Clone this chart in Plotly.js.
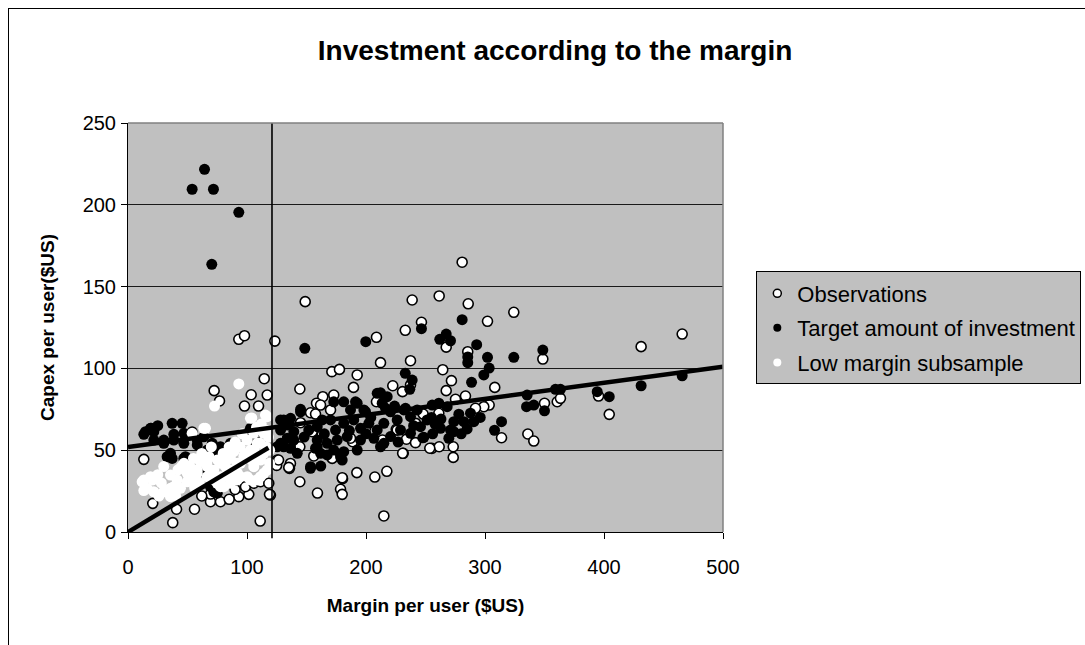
<!DOCTYPE html>
<html>
<head>
<meta charset="utf-8">
<script src="https://cdn.plot.ly/plotly-3.0.1.min.js"></script>
<style>
html,body{margin:0;padding:0;background:#fff;overflow:hidden;width:1085px;height:645px;}
#frame{position:absolute;left:8px;top:8px;width:1090px;height:650px;border:1px solid #000;background:#fff;}
#chart{width:1090px;height:650px;}
</style>
</head>
<body>
<div id="frame"><div id="chart"></div></div>
<script>
// ---- data ----
var chartTitle = "Investment according to the margin";
var xTitle = "Margin per user ($US)";
var yTitle = "Capex per user($US)";
var seriesNames = ["Observations", "Target amount of investment", "Low margin subsample"];
var xTicks = [0, 100, 200, 300, 400, 500];
var yTicks = [0, 50, 100, 150, 200, 250];

var obsMargin = [148.9,238.8,261.5,280.8,285.9,324.2,302.1,246.6,233,208.8,123.4,285.5,212.2,237.4,171.3,177.7,192.6,189.5,222.5,237.4,230.7,264.5,271.8,267.4,267.4,144.4,163.7,172.9,158.4,161.8,283.6,275.2,303.5,299,292,308.2,248,241.8,313.9,234,241.6,255.3,261.5,273.3,273.3,231.3,217.5,207.4,192.3,180.3,178.6,180,159.2,144.4,215,125.4,124.9,135.7,136.5,119.7,208.8,261.2,336,341,350,360.7,395.4,431.2,465.7,348.6,363.4,404.4,144.4,156.1,171.6,188.8,213.8,230.8,225.4,253.6,180,153.4,157.6,145,170.2,199.6,187,154.8,163.2,226.2,126.5,135.1,
  93.1,97.9,114.5,72.4,76.9,103.5,117,97.9,109.7,13.3,21.2,20.8,37.6,40.8,55.9,69.3,77.7,93.1,101.5,118.9,111.1,98.7,105.7,111.3,69.3,118.3,62,85,90];
var obsCapex = [140.8,141.8,144.3,164.9,139.5,134.3,128.8,128.2,123.3,119,116.7,110.2,103.5,104.7,98,99.4,96,88.4,89.4,89.9,85.8,99.2,92.5,86.4,113,87.4,82.7,83.7,78.7,77.6,83.1,81.1,77.6,76.6,75.6,88.4,72.1,66.4,57.6,56.7,54.6,51.1,52.1,52.1,45.6,48.1,37.1,33.6,36.3,32.6,26.1,23,23.8,30.7,9.8,44,40.7,38.9,41.9,22.6,79.6,72.6,59.9,55.6,78.7,79.6,83.1,113.3,121,105.7,81.7,71.9,52.1,46.5,45,55.2,56.2,48.1,62.8,51.2,33.2,72.9,72.1,66.8,74.6,63.4,57.3,61.3,59.3,62.3,44,39.5,
  117.8,120,93.7,86.4,80.1,83.9,83.7,77,77,44.4,32.8,17.5,5.7,13.9,13.9,18.5,18.5,21.6,23,23,6.7,27.7,29.8,30.7,23.2,29.8,22,20,26];

var targetMargin = [64.3,53.9,71.8,93.1,70.4,148.6,199.8,246.6,280.8,262,267.4,271,293,285.5,285.5,302.1,303.5,299,288.7,324.2,348.6,233,238.8,236.8,212.2,153.4,162,313.9,308,247.7,145,181.3,172.9,191.2,198.2,233.2,216.4,255.6,261.2,268.2,287.8,290.6,282.2,273.8,271,262.6,273.8,269.6,248.6,335.4,334.9,341,350,359.2,363.4,394.3,404.4,431.2,465.7,
  130.9,136.6,145,128.2,133.8,128.2,139.3,136.6,142.2,130.9,151.9,159,163.2,170.2,174.4,181.3,189.7,187,192.6,199.6,202.4,195.4,209.4,215,220.6,226.2,231.8,237.4,243,213.6,217.8,209.4,159,167.4,175.8,184.2,172.9,181.3,167.4,159,195.4,206.6,215,220.6,229,237.4,245.8,251.4,153.4,178.6,180,161.8,157.6,212.2,192.6,128.2,133.8,139.3,125.4,255,258,278,285,296,224,204,186,165,148,200,227,240,256,263,280,
  13.3,19.5,21.7,14.7,37.1,45.5,30.1,38.5,46.9,53.9,58.2,63.7,70.8,77.7,86.1,94.5,105.7,100.2,35.7,37.1,48.3,69.3,72.1,60.9,30.1,38.5,46.9,32.9,46.9,58.2,66.6,75,72.1,69.3,75,102.9,18.9,21.7,110,115,25];
var targetCapex = [221.7,209.5,209.5,195.4,163.6,112.3,116.3,124.3,129.8,117.8,121,116.9,114.5,107,103.5,106.8,100.2,96,91.5,106.8,111.2,97,92.9,87.2,85.1,38.9,40.3,67.4,62.2,57.6,75,79.6,79.6,79.6,74.6,75.6,75.6,77.6,78.7,76.6,72.6,67.4,67.4,67.4,62.3,63.4,61.3,57.3,57.9,83.7,76.6,77.6,74.1,87.2,87.2,85.8,82.7,89.4,95.5,
  68.5,69.5,73.5,62.3,57.3,54.2,56.2,51.2,48.1,52.1,62.3,64.4,68.5,68.5,62.3,66.4,68.5,74.6,78.7,73.5,66.4,63.4,62.3,66.4,73.5,68.5,74.6,70.5,74.6,78.7,82.7,84.8,56.2,54.2,56.2,58.3,50.1,49.1,47.1,52.1,56.2,57.3,54.2,58.3,62.3,60.3,64.4,68.5,39.9,46,44,48.1,51.2,52.1,50.1,68.5,65.4,61.3,52.1,70,66,72,63,70,77,70,62,60,58,60,55,65,60,69,60,
  59.7,63.4,61.3,61.3,66.4,66.4,56.2,59.7,60.3,61.3,56.2,58.2,54.2,52.1,54.2,52.1,56.2,60.3,48.1,45,46,47.1,24.6,36.9,54.2,56.2,54.2,46,45,53.2,50.1,48.1,42,27.7,23.7,63.4,63.4,56.2,62,58,65];

var lowMargin = [93.1,72.7,104,117,13.3,21.7,20.8,35.7,41.3,44.1,35.7,49.7,58.2,66.6,63.7,77.7,83.4,88.9,94.5,100.2,105.7,114.1,111.3,105.7,100.2,91.8,77.7,72.1,83.4,63.7,53.9,111.3,114.1,114.1,108.6,94.5,35.7,30.1,49.7,69.3,77.7,65.1,102.9,115.5,86.1,60.9,66.6,91.8,97.3,102.9,108.6,94.5,111.3,117,86.1,80.5,102.9,111.3,38.5,32.9,13.3,18.9,16.1,52.5,58.2,66.6,75,80.5,86.1,11.9,45,55,117,119,119,
  25,28,30,42,47,52,55,60,62,68,72,75,80,82,88,90,96,98,104,108,112,116,118,106,92,70,85,40,26,56];
var lowCapex = [90.5,77,69.7,70.5,25.3,24.6,31.8,34.8,31.8,26.7,21.6,30.7,35.9,39.9,44,42,46,49.1,52.1,56.2,60.3,60.3,46,39.9,33.8,31.8,27.7,31.8,35.9,63.4,60.3,54.2,48.1,35.9,31.8,42,26.7,24.6,35.9,35.9,33.8,63.4,69.5,71.5,45,43,42,42,46,50.1,54.2,33.8,44,37.9,35.9,33.8,31.8,33.8,27.7,25.7,31.8,33.8,26.7,35.9,37.9,33.8,29.8,27.7,29.8,30.7,40,45,62,50,42,
  35,30,40,38,42,40,33,30,48,46,38,44,48,40,38,55,60,48,44,64,66,52,58,50,36,52,52,22,22,27];

var fitAllMargin = [0, 500];
var fitAllCapex = [52, 101];
var fitLowMargin = [0, 118];
var fitLowCapex = [0, 51.5];
var marginThreshold = 121;

// ---- traces ----
var fontFam = '"Liberation Sans", Arial, sans-serif';
var traces = [
  {x: obsMargin, y: obsCapex, mode: 'markers', type: 'scatter', showlegend: false, cliponaxis: false,
   marker: {symbol: 'circle', size: 10, color: '#ffffff', line: {color: '#000000', width: 1.6}}},
  {x: targetMargin, y: targetCapex, mode: 'markers', type: 'scatter', showlegend: false, cliponaxis: false,
   marker: {symbol: 'circle', size: 11, color: '#000000', line: {width: 0}}},
  {x: lowMargin, y: lowCapex, mode: 'markers', type: 'scatter', showlegend: false, cliponaxis: false,
   marker: {symbol: 'circle', size: 11, color: '#ffffff', line: {width: 0}}},
  {x: fitAllMargin, y: fitAllCapex, mode: 'lines', type: 'scatter', showlegend: false,
   line: {color: '#000000', width: 4.5}},
  {x: fitLowMargin, y: fitLowCapex, mode: 'lines', type: 'scatter', showlegend: false,
   line: {color: '#000000', width: 4.5}},
  // legend entries
  {x: [null], y: [null], name: seriesNames[0], legendgroup: 'a', mode: 'markers', type: 'scatter',
   marker: {size: 8, color: '#ffffff', line: {color: '#000', width: 1.5}}},
  {x: [null], y: [null], name: seriesNames[1], legendgroup: 'b', mode: 'markers', type: 'scatter',
   marker: {size: 8, color: '#000000', line: {width: 0}}},
  {x: [null], y: [null], name: seriesNames[2], legendgroup: 'c', mode: 'markers', type: 'scatter',
   marker: {size: 8, color: '#ffffff', line: {width: 0}}}
];

var layout = {
  width: 1090, height: 650,
  paper_bgcolor: '#ffffff', plot_bgcolor: '#c0c0c0',
  margin: {l: 118.5, r: 375.5, t: 113.5, b: 127, autoexpand: false},
  font: {family: fontFam, color: '#000', size: 20},
  title: {text: chartTitle, font: {family: fontFam, size: 28, weight: 'bold', color: '#000'},
          xref: 'container', yref: 'container', x: 0.501, y: 0.937, xanchor: 'center', yanchor: 'middle'},
  xaxis: {range: [0, 500], tickvals: xTicks, ticktext: xTicks.map(String), ticks: 'outside', ticklen: 6,
          tickcolor: '#000', tickwidth: 1, showgrid: false, zeroline: false, showline: true, linecolor: '#000', linewidth: 1,
          ticklabelstandoff: 11, tickfont: {size: 20},
          title: {text: xTitle, font: {size: 19, weight: 'bold'}, standoff: 21}},
  yaxis: {range: [0, 250], tickvals: yTicks, ticktext: yTicks.map(String), ticks: 'outside', ticklen: 6,
          tickcolor: '#000', tickwidth: 1, showgrid: true, gridcolor: '#1a1a1a', gridwidth: 1, zeroline: false,
          showline: true, linecolor: '#000', linewidth: 1, ticklabelstandoff: 1, tickfont: {size: 20},
          title: {text: yTitle, font: {size: 19, weight: 'bold'}, standoff: 22}},
  legend: {x: 1.056, y: 0.637, xanchor: 'left', yanchor: 'top', bgcolor: '#c0c0c0', bordercolor: '#000',
           borderwidth: 1, font: {size: 22, family: fontFam}, traceorder: 'grouped', tracegroupgap: 3},
  shapes: [
    {type: 'line', xref: 'x', yref: 'paper', x0: marginThreshold, x1: marginThreshold, y0: -0.015, y1: 1,
     line: {color: '#000', width: 1.6}, layer: 'above'},
    {type: 'line', xref: 'paper', yref: 'paper', x0: 0, x1: 1, y0: 1, y1: 1, line: {color: '#808080', width: 1.5}},
    {type: 'line', xref: 'paper', yref: 'paper', x0: 1, x1: 1, y0: 0, y1: 1, line: {color: '#808080', width: 1.5}}
  ]
};

Plotly.newPlot('chart', traces, layout, {displayModeBar: false, staticPlot: true});
</script>
</body>
</html>
